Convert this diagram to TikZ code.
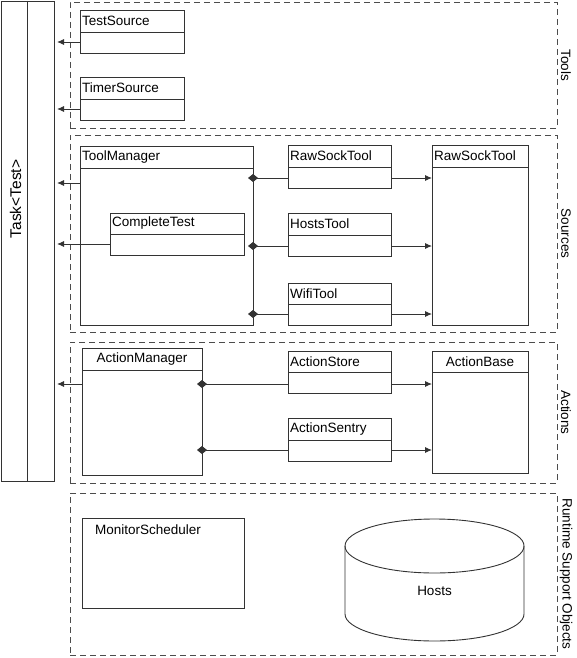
\documentclass[tikz,border=0pt]{standalone}
\usepackage{fontspec}
\setmainfont{Liberation Sans}
\usetikzlibrary{arrows.meta}
\tikzset{
  ln/.style={draw=black!80, line width=0.9pt},
  ubox/.style={ln, rectangle, inner sep=0pt, outer sep=0pt, fill=white},
  grp/.style={draw=black!70, line width=0.9pt, dash pattern=on 6pt off 4pt, rectangle, inner sep=0pt, outer sep=0pt},
  lbl/.style={inner sep=0pt, font=\fontsize{13.5}{16}\selectfont},
  toleft/.style={ln, -{Latex[length=7pt,width=6pt]}, shorten >=3pt},
  toright/.style={ln, -{Latex[length=7pt,width=6pt]}},
  comp/.style={ln, {Diamond[length=10pt,width=8pt]}-, shorten <=-5pt},
}
\newcommand\umlbox[8]{%
  \node[ubox, minimum width={#4-#2}, minimum height={#5-#3}, anchor=north west] (#1) at (#2,#3) {};
  \draw[ln] (#2,#6) -- (#4,#6);
  \ifx\relax#8\relax
    \node[lbl, anchor=west] (#1-l) at (#2+2,{(#3+#6)/2}) {#7};
  \else
    \node[lbl] (#1-l) at ({(#2+#4)/2},{(#3+#6)/2}) {#7};
  \fi}
\newcommand\grpbox[6]{%
  \node[grp, minimum width={#4-#2}, minimum height={#5-#3}, anchor=north west] (#1) at (#2,#3) {};
  \node[lbl, rotate=-90] (#1-l) at (566,{(#3+#5)/2}) {#6};}
\begin{document}
\begin{tikzpicture}[x=1pt,y=-1pt]
\useasboundingbox (0,0) rectangle (576,658);
% groups
\grpbox{gtools}{70}{2}{557}{128}{Tools}
\grpbox{gsrc}{70}{135}{557}{332}{Sources}
\grpbox{gact}{70}{342}{557}{483}{Actions}
\grpbox{grun}{70}{493}{557}{655}{Runtime Support Objects}
% task column
\node[ubox, minimum width=53, minimum height=480, anchor=north west] (task) at (1,1) {};
\draw[ln] (task.north) -- (task.south);
\node[lbl, rotate=90, font=\fontsize{15.5}{18}\selectfont] (task-l) at (15.5,199) {Task<Test>};
% tools
\umlbox{ts}{80}{10}{184}{53}{32}{TestSource}{}
\umlbox{tim}{80}{77}{184}{120}{99}{TimerSource}{}
% sources
\umlbox{tm}{80}{146}{253}{325}{168}{ToolManager}{}
\umlbox{ct}{110}{213}{244}{255}{234}{CompleteTest}{}
\umlbox{rst}{288}{145}{391}{188}{167}{RawSockTool}{}
\umlbox{ht}{288}{213}{391}{256}{235}{HostsTool}{}
\umlbox{wt}{288}{283}{391}{325}{304}{WifiTool}{}
\umlbox{rsb}{432}{145}{528}{325}{167}{RawSockTool}{}
% actions
\umlbox{am}{82}{348}{202}{475}{370}{ActionManager}{c}
\umlbox{as}{288}{351}{391}{393}{372}{ActionStore}{}
\umlbox{asn}{288}{418}{391}{461}{440}{ActionSentry}{}
\umlbox{ab}{432}{351}{528}{473}{372}{ActionBase}{c}
% runtime
\node[ubox, minimum width=162, minimum height=90, anchor=north west] (ms) at (82,518) {};
\node[lbl, anchor=west] (ms-l) at (95,530) {MonitorScheduler};
\draw[ln] (434.5,546) ellipse [x radius=89.5, y radius=27];
\draw[ln] (345,546) -- (345,614) arc[start angle=180, end angle=0, x radius=89.5, y radius=27] -- (524,546);
\node[lbl] (hosts) at (434.5,591) {Hosts};
% arrows to task
\draw[toleft] (ts.west |- 0,42) -- (task.east |- 0,42);
\draw[toleft] (tim.west |- 0,109) -- (task.east |- 0,109);
\draw[toleft] (tm.west |- 0,183) -- (task.east |- 0,183);
\draw[toleft] (ct.west |- 0,244) -- (task.east |- 0,244);
\draw[toleft] (am.west |- 0,384) -- (task.east |- 0,384);
% compositions
\draw[comp] (tm.east |- 0,178) -- (rst.west |- 0,178);
\draw[comp] (tm.east |- 0,246) -- (ht.west |- 0,246);
\draw[comp] (tm.east |- 0,314) -- (wt.west |- 0,314);
\draw[comp] (am.east |- 0,384) -- (as.west |- 0,384);
\draw[comp] (am.east |- 0,450) -- (asn.west |- 0,450);
% to base classes
\draw[toright] (rst.east |- 0,178) -- (rsb.west |- 0,178);
\draw[toright] (ht.east |- 0,246) -- (rsb.west |- 0,246);
\draw[toright] (wt.east |- 0,314) -- (rsb.west |- 0,314);
\draw[toright] (as.east |- 0,384) -- (ab.west |- 0,384);
\draw[toright] (asn.east |- 0,450) -- (ab.west |- 0,450);
\end{tikzpicture}
\end{document}
